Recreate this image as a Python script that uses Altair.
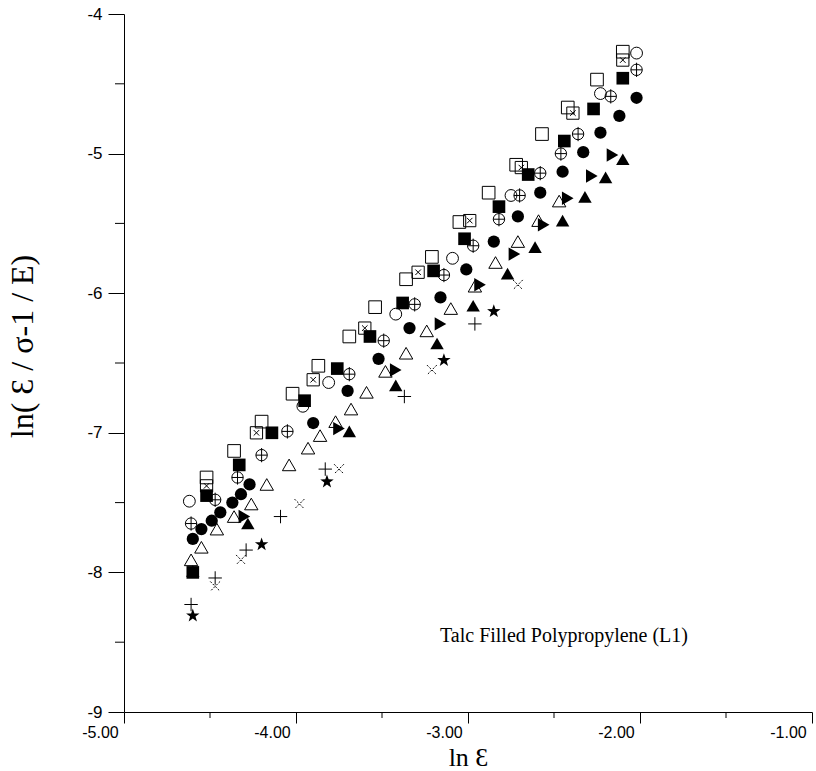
import altair as alt
import pandas as pd

# ---- data (ln strain, ln(strain/stress - 1/E)) ----
open_sq_x = [-4.52, -4.36, -4.20, -4.02, -3.87, -3.69, -3.54, -3.36, -3.21, -3.05, -2.88, -2.72, -2.57, -2.42, -2.25, -2.10]
open_sq_y = [-7.32, -7.13, -6.92, -6.72, -6.52, -6.31, -6.10, -5.90, -5.74, -5.49, -5.28, -5.08, -4.86, -4.67, -4.47, -4.27]

x_sq_x = [-4.52, -4.23, -3.90, -3.60, -3.29, -2.99, -2.69, -2.39, -2.10]
x_sq_y = [-7.38, -7.00, -6.62, -6.25, -5.85, -5.48, -5.10, -4.71, -4.33]

fill_sq_x = [-4.60, -4.52, -4.33, -4.14, -3.95, -3.76, -3.57, -3.38, -3.20, -3.02, -2.82, -2.65, -2.44, -2.27, -2.10]
fill_sq_y = [-8.00, -7.45, -7.23, -7.00, -6.77, -6.54, -6.31, -6.07, -5.84, -5.61, -5.38, -5.15, -4.91, -4.68, -4.46]

open_ci_x = [-4.62, -3.96, -3.81, -3.42, -3.09, -2.75, -2.23, -2.02]
open_ci_y = [-7.49, -6.81, -6.64, -6.15, -5.75, -5.30, -4.57, -4.28]

plus_ci_x = [-4.61, -4.47, -4.34, -4.20, -4.05, -3.69, -3.49, -3.31, -3.14, -2.97, -2.82, -2.70, -2.58, -2.46, -2.36, -2.17, -2.02]
plus_ci_y = [-7.65, -7.48, -7.32, -7.16, -6.99, -6.58, -6.34, -6.08, -5.87, -5.66, -5.47, -5.30, -5.14, -5.00, -4.86, -4.59, -4.40]

fill_ci_x = [-4.60, -4.55, -4.49, -4.44, -4.37, -4.32, -4.27, -3.90, -3.70, -3.52, -3.34, -3.16, -3.01, -2.85, -2.71, -2.58, -2.45, -2.33, -2.23, -2.12, -2.02]
fill_ci_y = [-7.76, -7.69, -7.63, -7.57, -7.50, -7.44, -7.37, -6.93, -6.70, -6.47, -6.25, -6.03, -5.83, -5.63, -5.45, -5.28, -5.13, -4.99, -4.85, -4.73, -4.60]

open_tri_x = [-4.61, -4.55, -4.46, -4.36, -4.26, -4.17, -4.04, -3.93, -3.86, -3.77, -3.68, -3.59, -3.48, -3.36, -3.24, -3.10, -2.96, -2.84, -2.71, -2.59, -2.47]
open_tri_y = [-7.91, -7.82, -7.69, -7.60, -7.51, -7.37, -7.23, -7.11, -7.02, -6.92, -6.83, -6.71, -6.56, -6.43, -6.27, -6.11, -5.95, -5.78, -5.63, -5.48, -5.34]

right_tri_x = [-4.30, -3.75, -3.42, -3.16, -2.93, -2.73, -2.56, -2.42, -2.28, -2.16]
right_tri_y = [-7.60, -6.97, -6.55, -6.22, -5.94, -5.72, -5.51, -5.32, -5.16, -5.01]

fill_tri_x = [-4.60, -4.28, -3.69, -3.42, -3.18, -2.97, -2.77, -2.61, -2.45, -2.32, -2.20, -2.10]
fill_tri_y = [-7.99, -7.65, -6.99, -6.66, -6.36, -6.09, -5.86, -5.67, -5.48, -5.31, -5.17, -5.04]

plus_x = [-4.61, -4.47, -4.29, -4.09, -3.83, -3.37, -2.96]
plus_y = [-8.23, -8.04, -7.84, -7.60, -7.26, -6.74, -6.22]

cross_x = [-4.47, -4.32, -3.98, -3.75, -3.21, -2.71]
cross_y = [-8.10, -7.91, -7.51, -7.26, -6.55, -5.94]

star_x = [-4.60, -4.20, -3.82, -3.14, -2.85]
star_y = [-8.31, -7.80, -7.35, -6.48, -6.13]

x_ticks = [-5, -4, -3, -2, -1]
x_minor = [-4.5, -3.5, -2.5, -1.5]
y_ticks = [-9, -8, -7, -6, -5, -4]
y_minor = [-8.5, -7.5, -6.5, -5.5, -4.5]
annotation = "Talc Filled Polypropylene (L1)"
x_title = "ln Ɛ"
y_title = "ln( Ɛ / σ-1 / E)"

# ---- shapes ----
STAR = "M0,-1L0.235,-0.324L0.951,-0.309L0.38,0.124L0.588,0.809L0,0.4L-0.588,0.809L-0.38,0.124L-0.951,-0.309L-0.235,-0.324Z"
PLUS = "M-1,0L1,0M0,-1L0,1"
CROSS = "M-0.75,-0.75L0.75,0.75M0.75,-0.75L-0.75,0.75"
CIRC_PLUS = "M1,0A1,1 0 1,1 -1,0A1,1 0 1,1 1,0M-1,0L1,0M0,-1.25L0,1.25"
SQ_X = "M-1,-1L1,-1L1,1L-1,1ZM-0.45,-0.45L0.45,0.45M0.45,-0.45L-0.45,0.45"

W, H = 688, 698

X = alt.X("x:Q", scale=alt.Scale(domain=[-5, -1], nice=False, zero=False),
          axis=alt.Axis(values=x_ticks, grid=False, tickSize=11, tickColor="black",
                        domainColor="black", labelColor="black", labelFlush=False,
                        labelOffset=-24,
                        labelExpr="datum.value < 0 ? '-' + format(-datum.value, '.2f') : format(datum.value, '.2f')",
                        labelFont="Liberation Sans", labelFontSize=16, labelPadding=1,
                        title=x_title, titleFont="Liberation Serif", titleFontSize=26,
                        titleFontWeight="normal", titleColor="black",
                        titleX=344, titleY=53, titleBaseline="alphabetic"))
Y = alt.Y("y:Q", scale=alt.Scale(domain=[-9, -4], nice=False, zero=False),
          axis=alt.Axis(values=y_ticks, grid=False, tickSize=16, tickColor="black",
                        domainColor="black", labelColor="black", labelFlush=False,
                        labelExpr="datum.value < 0 ? '-' + format(-datum.value, 'd') : format(datum.value, 'd')",
                        labelFont="Liberation Sans", labelFontSize=17, labelPadding=6,
                        title=y_title, titleFont="Liberation Serif", titleFontSize=32,
                        titleFontWeight="normal", titleColor="black",
                        titleX=-92, titleY=332, titleAlign="center", titleBaseline="alphabetic"))

series = [
    (open_sq_x, open_sq_y, dict(shape="square", filled=False, size=160)),
    (x_sq_x, x_sq_y, dict(shape=SQ_X, filled=False, size=150)),
    (fill_sq_x, fill_sq_y, dict(shape="square", filled=True, size=160)),
    (open_ci_x, open_ci_y, dict(shape="circle", filled=False, size=140)),
    (plus_ci_x, plus_ci_y, dict(shape=CIRC_PLUS, filled=False, size=130)),
    (fill_ci_x, fill_ci_y, dict(shape="circle", filled=True, size=150)),
    (open_tri_x, open_tri_y, dict(shape="triangle-up", filled=False, size=180)),
    (right_tri_x, right_tri_y, dict(shape="triangle-right", filled=True, size=180)),
    (fill_tri_x, fill_tri_y, dict(shape="triangle-up", filled=True, size=180)),
    (plus_x, plus_y, dict(shape=PLUS, filled=False, size=180)),
    (cross_x, cross_y, dict(shape=CROSS, filled=False, size=170, strokeDash=[2, 1.5])),
    (star_x, star_y, dict(shape=STAR, filled=True, size=200)),
]

layers = []
for xs, ys, st in series:
    df = pd.DataFrame({"x": xs, "y": ys})
    layers.append(alt.Chart(df).mark_point(color="black", opacity=1, strokeWidth=1, **st).encode(x=X, y=Y))

xm = alt.Chart(pd.DataFrame({"x": x_minor})).mark_rule(color="black", strokeWidth=1).encode(
    x=X, y=alt.value(H), y2=alt.value(H + 6))
ym = alt.Chart(pd.DataFrame({"y": y_minor})).mark_rule(color="black", strokeWidth=1).encode(
    y=Y, x=alt.value(-9), x2=alt.value(0))

txt = alt.Chart(pd.DataFrame({"t": [annotation]})).mark_text(
    font="Liberation Serif", fontSize=20, color="black", align="center", baseline="middle"
).encode(text="t:N", x=alt.value(440), y=alt.value(622))

chart = alt.layer(xm, ym, *layers, txt).properties(
    width=W, height=H,
    autosize=alt.AutoSizeParams(type="none"),
    padding={"left": 124, "top": 14, "right": 4, "bottom": 59},
).configure_view(stroke=None).configure_axis(domainWidth=1, tickWidth=1)

chart.save("out.html", embed_options={"renderer": "svg", "actions": False})
